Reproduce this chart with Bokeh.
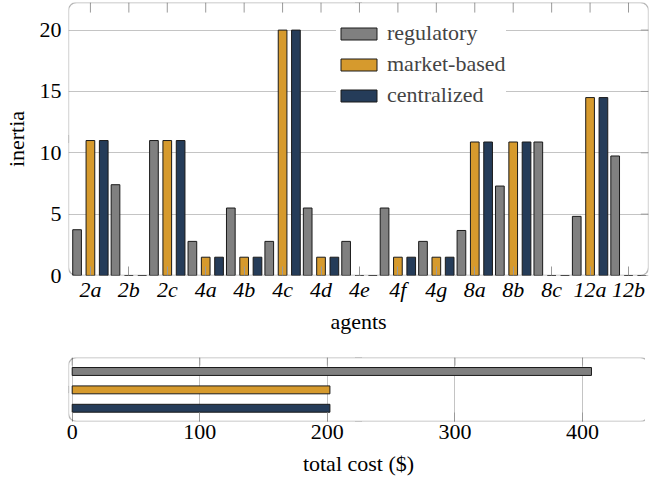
from bokeh.plotting import figure
from bokeh.layouts import column
from bokeh.models import (ColumnDataSource, FixedTicker, Range1d,
                          BoxAnnotation, Legend, LegendItem, PolyAnnotation)
from bokeh.transform import dodge
from bokeh.embed import file_html
from bokeh.resources import INLINE

# ---------------- data ----------------
agents = ["2a", "2b", "2c", "4a", "4b", "4c", "4d", "4e", "4f", "4g",
          "8a", "8b", "8c", "12a", "12b"]
regulatory = [3.73, 7.4, 11.0, 2.78, 5.5, 2.78, 5.5, 2.78, 5.5, 2.78,
              3.67, 7.29, 10.88, 4.82, 9.74]
market_based = [11.0, 0, 11.0, 1.49, 1.49, 20.0, 1.49, 0, 1.49, 1.49,
                10.88, 10.88, 0, 14.5, 0]
centralized = [11.0, 0, 11.0, 1.49, 1.49, 20.0, 1.49, 0, 1.49, 1.49,
               10.88, 10.88, 0, 14.5, 0]
schemes = ["regulatory", "market-based", "centralized"]
total_cost = [407, 202, 202]
y_ticks = [0, 5, 10, 15, 20]
cost_ticks = [0, 100, 200, 300, 400]

# ---------------- style ----------------
GREY = "#808080"
GOLD = "#D69A2D"
NAVY = "#253C59"
EDGE = "#1a1a1a"
GRID = "#C4C4C4"
TICK = "#9A9A9A"
FONT = "Liberation Serif"
FS = "22px"
COLORS = [GREY, GOLD, NAVY]


def style_axis(ax, ticks):
    ax.ticker = FixedTicker(ticks=ticks)
    ax.axis_line_color = None
    ax.major_tick_in = 9
    ax.major_tick_out = 0
    ax.major_tick_line_color = TICK
    ax.minor_tick_line_color = None
    ax.major_label_text_font = FONT
    ax.major_label_text_font_size = FS
    ax.major_label_text_color = "black"
    ax.axis_label_text_font = FONT
    ax.axis_label_text_font_size = FS
    ax.axis_label_text_font_style = "normal"
    ax.axis_label_text_color = "black"


def add_frame(fig, xr, yr, dx, dy, dxl, dyl):
    fig.add_layout(BoxAnnotation(fill_color=None, fill_alpha=0, line_color="#111111",
                                 line_width=1.3, border_radius=8, level="overlay"))
    xm = (xr.start + xr.end) / 2
    ym = (yr.start + yr.end) / 2
    # brace tips on top, bottom and left side
    for xs, ys in [([xm - dx, xm, xm + dx], [yr.end, yr.end + dy, yr.end]),
                   ([xm - dx, xm, xm + dx], [yr.start, yr.start - dy, yr.start]),
                   ([xr.start, xr.start - dxl, xr.start], [ym - dyl, ym, ym + dyl])]:
        fig.add_layout(PolyAnnotation(xs=xs, ys=ys, fill_color="white", fill_alpha=1,
                                      line_color="#111111", line_width=1.2, level="overlay"))


# ---------------- top chart ----------------
idx = list(range(len(agents)))
src = ColumnDataSource(dict(x=idx, reg=regulatory, mkt=market_based, cen=centralized))

xr = Range1d(-0.57, 14.52)
yr = Range1d(0, 22.25)
p = figure(frame_width=580, frame_height=273, x_range=xr, y_range=yr,
           output_backend="svg", toolbar_location=None,
           min_border_left=64, min_border_right=1, min_border_top=2,
           min_border_bottom=0)
p.outline_line_color = None

r_reg = p.vbar(x=dodge("x", -0.347, range=xr), top="reg", width=0.226, source=src,
               fill_color=GREY, line_color=EDGE, line_width=1)
r_mkt = p.vbar(x=dodge("x", 0.0, range=xr), top="mkt", width=0.226, source=src,
               fill_color=GOLD, line_color=EDGE, line_width=1)
r_cen = p.vbar(x=dodge("x", 0.347, range=xr), top="cen", width=0.226, source=src,
               fill_color=NAVY, line_color=EDGE, line_width=1)

p.xgrid.grid_line_color = None
p.ygrid.grid_line_color = GRID
p.ygrid.ticker = FixedTicker(ticks=y_ticks)

style_axis(p.xaxis[0], idx)
p.xaxis[0].major_label_overrides = {i: a for i, a in enumerate(agents)}
p.xaxis[0].major_label_text_font_style = "italic"
p.xaxis[0].major_label_standoff = 1
p.xaxis[0].axis_label = "agents"
p.xaxis[0].axis_label_standoff = 4

style_axis(p.yaxis[0], y_ticks)
p.yaxis[0].major_tick_in = 0
p.yaxis[0].major_label_standoff = 7
p.yaxis[0].axis_label = "inertia"
p.yaxis[0].axis_label_standoff = 8

# inward ticks on the top and right edges (mirrors of the axis ticks)
top_len = 0.82
p.segment(x0=idx, y0=[yr.end] * len(idx), x1=idx, y1=[yr.end - top_len] * len(idx),
          line_color=TICK, line_width=1)
right_len = 0.2
p.segment(x0=[xr.end] * len(y_ticks), y0=y_ticks, x1=[xr.end - right_len] * len(y_ticks),
          y1=y_ticks, line_color=TICK, line_width=1)

legend = Legend(items=[LegendItem(label=schemes[0], renderers=[r_reg]),
                       LegendItem(label=schemes[1], renderers=[r_mkt]),
                       LegendItem(label=schemes[2], renderers=[r_cen])],
                location=(268, 167), orientation="vertical",
                label_text_font=FONT, label_text_font_size=FS,
                glyph_width=45, glyph_height=15, label_standoff=6,
                label_height=26, spacing=5, padding=8, margin=0,
                border_line_color=None, background_fill_color="white",
                background_fill_alpha=1)
p.add_layout(legend)

add_frame(p, xr, yr, 0.08, 0.25, 0.1, 0.3)

# ---------------- bottom chart ----------------
ypos = [3, 2, 1]
src2 = ColumnDataSource(dict(y=ypos, cost=total_cost, color=COLORS, name=schemes))
xr2 = Range1d(-2.9, 451.7)
yr2 = Range1d(0.28, 3.76)
q = figure(frame_width=580, frame_height=64, x_range=xr2, y_range=yr2,
           output_backend="svg", toolbar_location=None,
           min_border_left=64, min_border_right=1, min_border_top=21,
           min_border_bottom=0)
q.outline_line_color = None
q.hbar(y="y", left=0, right="cost", height=0.43, source=src2,
       fill_color="color", line_color=EDGE, line_width=1)
q.ygrid.grid_line_color = None
q.xgrid.grid_line_color = GRID
q.xgrid.ticker = FixedTicker(ticks=cost_ticks)

style_axis(q.xaxis[0], cost_ticks)
q.xaxis[0].major_label_standoff = 3
q.xaxis[0].axis_label = "total cost ($)"
q.xaxis[0].axis_label_standoff = 9
q.yaxis.visible = False

top_len2 = 0.44
q.segment(x0=cost_ticks, y0=[yr2.end] * len(cost_ticks), x1=cost_ticks,
          y1=[yr2.end - top_len2] * len(cost_ticks), line_color=TICK, line_width=1)

add_frame(q, xr2, yr2, 2.5, 0.16, 2.5, 0.18)

layout = column(p, q)
open("out.html", "w").write(file_html(layout, INLINE))
